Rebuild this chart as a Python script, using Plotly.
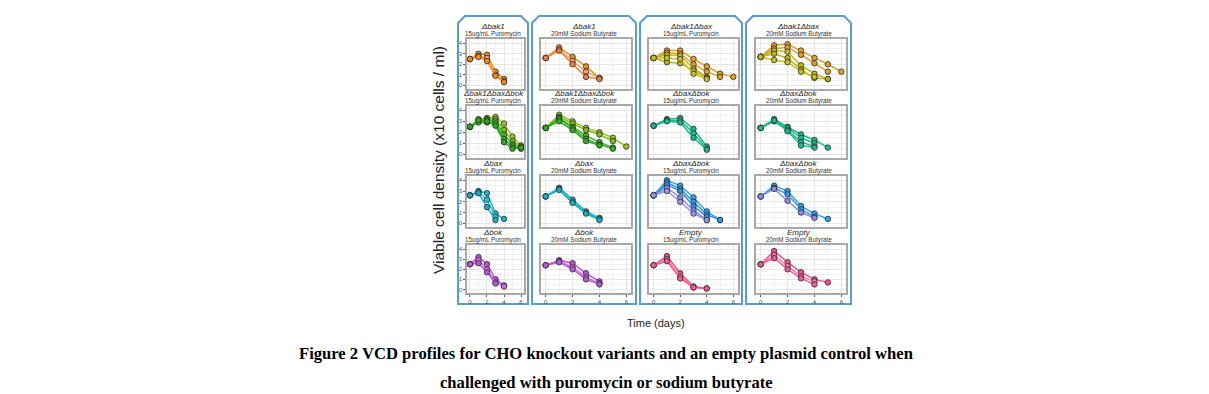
import plotly.graph_objects as go

W, H = 1209, 394

days = [0, 1, 2, 3, 4, 5, 6]
y_ticks = [0, 1, 2, 3, 4]
x_ticks = [0, 2, 4, 6]

# ---- data (viable cell density, x10^6 cells/ml) ----
bak1_puro = [[2.5, 3.0, 2.9, 1.3, 0.6],
             [2.5, 2.8, 2.6, 1.0, 0.4],
             [2.5, 2.7, 2.3, 0.9, 0.3]]
bak1_buty = [[2.6, 3.6, 2.7, 1.8, 0.7],
             [2.6, 3.4, 2.3, 1.3, 0.7],
             [2.6, 3.3, 2.0, 0.8, 0.6]]
bak1bax_puro = [[2.6, 3.3, 3.3, 2.5, 1.8, 1.1, 0.8],
                [2.6, 3.1, 3.0, 2.0, 1.3, 0.8],
                [2.6, 2.9, 2.8, 1.6, 0.8],
                [2.6, 2.2, 2.1, 1.4, 0.7],
                [2.6, 2.6, 2.5, 1.1, 0.6]]
bak1bax_buty = [[2.7, 3.8, 3.9, 3.3, 2.6, 2.0, 1.3],
                [2.7, 3.5, 3.6, 2.9, 2.1, 1.3],
                [2.7, 3.3, 3.2, 1.9, 1.1, 0.6],
                [2.7, 3.0, 2.6, 1.5, 0.7, 0.6],
                [2.7, 2.4, 2.2, 1.3, 0.8]]
bak1baxbok_puro = [[2.5, 3.2, 3.3, 3.4, 2.8, 1.6, 0.8],
                   [2.5, 3.1, 3.2, 3.2, 2.2, 1.2, 0.7],
                   [2.5, 3.0, 3.1, 3.0, 1.8, 0.9, 0.6],
                   [2.5, 2.9, 2.9, 2.8, 1.4, 0.7, 0.5],
                   [2.5, 3.1, 3.0, 2.6, 1.1, 0.5, 0.6]]
bak1baxbok_buty = [[2.4, 3.6, 3.0, 2.4, 2.0, 1.5, 0.7],
                   [2.4, 3.4, 2.8, 2.2, 1.8, 1.2],
                   [2.4, 3.3, 2.5, 1.7, 1.1, 0.6],
                   [2.4, 3.2, 2.4, 1.4, 0.9, 0.5],
                   [2.4, 3.0, 2.2, 1.2, 0.8]]
baxbok_puro_a = [[2.6, 3.2, 3.3, 2.3, 0.7],
                 [2.6, 3.1, 3.1, 1.9, 0.5],
                 [2.6, 3.0, 2.9, 1.5, 0.4]]
baxbok_buty_a = [[2.4, 3.2, 2.5, 1.8, 1.3, 0.6],
                 [2.4, 3.1, 2.4, 1.5, 1.0],
                 [2.4, 3.0, 2.2, 1.1, 0.7],
                 [2.4, 3.1, 2.1, 0.8, 0.6]]
bax_puro = [[2.6, 3.0, 2.8, 0.9, 0.4],
            [2.6, 2.9, 2.2, 0.6],
            [2.6, 2.8, 1.5, 0.3]]
bax_buty = [[2.5, 3.3, 2.2, 1.1, 0.5],
            [2.5, 3.2, 2.0, 1.0, 0.4],
            [2.5, 3.1, 1.9, 0.9, 0.3]]
baxbok_puro_b = [[2.6, 4.0, 3.5, 2.4, 1.1, 0.3],
                 [2.6, 3.8, 3.2, 2.0, 0.8, 0.3],
                 [2.6, 3.6, 3.0, 1.6, 0.6],
                 [2.6, 3.3, 2.4, 1.2, 0.3],
                 [2.6, 3.0, 2.0, 0.9, 0.3]]
baxbok_buty_b = [[2.5, 3.5, 3.0, 1.6, 0.9, 0.4],
                 [2.5, 3.3, 2.7, 1.3, 0.6],
                 [2.5, 3.2, 2.1, 1.0, 0.5]]
bok_puro = [[2.5, 3.2, 2.5, 1.0, 0.4],
            [2.5, 2.9, 2.0, 0.7, 0.3],
            [2.5, 2.6, 1.7, 0.6]]
bok_buty = [[2.4, 2.9, 2.6, 1.6, 0.8],
            [2.4, 2.8, 2.2, 1.2, 0.6],
            [2.4, 2.7, 2.0, 1.0, 0.5]]
empty_puro = [[2.4, 3.3, 1.6, 0.3, 0.1],
              [2.4, 3.0, 1.3, 0.2],
              [2.4, 2.8, 1.1, 0.2, 0.1]]
empty_buty = [[2.5, 3.8, 2.7, 1.7, 1.0, 0.7],
              [2.5, 3.4, 2.3, 1.3, 0.8],
              [2.5, 3.1, 2.0, 1.1, 0.5]]

panel_titles = ["Δbak1", "Δbak1", "Δbak1Δbax", "Δbak1Δbax",
                "Δbak1ΔbaxΔbok", "Δbak1ΔbaxΔbok", "ΔbaxΔbok", "ΔbaxΔbok",
                "Δbax", "Δbax", "ΔbaxΔbok", "ΔbaxΔbok",
                "Δbok", "Δbok", "Empty", "Empty"]
treatments = ["15ug/mL Puromycin", "20mM Sodium Butyrate"]

panel_data = [bak1_puro, bak1_buty, bak1bax_puro, bak1bax_buty,
              bak1baxbok_puro, bak1baxbok_buty, baxbok_puro_a, baxbok_buty_a,
              bax_puro, bax_buty, baxbok_puro_b, baxbok_buty_b,
              bok_puro, bok_buty, empty_puro, empty_buty]

# ---- styles ----
palettes = [
    ["#F28C1E", "#F5A070", "#F28C1E"],
    ["#F28C1E", "#F5A070", "#EE7E3A"],
    ["#E0A028", "#E0A028", "#C2BC1C", "#B8B414", "#C8C020"],
    ["#E0A028", "#E0A028", "#C2BC1C", "#B8B414", "#C8C020"],
    ["#9CC322", "#7CBF22", "#3DB51F", "#34B02A", "#2DAA1E"],
    ["#9CC322", "#7CBF22", "#3DB51F", "#34B02A", "#2DAA1E"],
    ["#1DB98C", "#20BE80", "#18B494"],
    ["#1DB98C", "#20BE80", "#18B494", "#22B888"],
    ["#1FB5C9", "#22C2D6", "#19AFC0"],
    ["#1FB5C9", "#22C2D6", "#19AFC0"],
    ["#2FA4EE", "#3399E6", "#2E8FE0", "#8C8CE8", "#9A94EA"],
    ["#2FA4EE", "#3399E6", "#8C8CE8"],
    ["#C04FDB", "#D86BE0", "#B45AD6"],
    ["#C04FDB", "#D86BE0", "#B45AD6"],
    ["#F0508C", "#F47CA8", "#EE5C98"],
    ["#F0508C", "#F47CA8", "#EE5C98"],
]

# layout in page pixels (page body has an 8px margin, already accounted for)
col_x = [(459, 516), (533, 623), (641, 730), (748, 838)]
row_y = [(31, 81), (98, 150), (168, 219), (237, 285)]
box_x = [(450, 520), (524, 628), (632, 734), (738, 843)]
box_y = (8, 296)

def px(x):
    return x / W

def py(y):
    return 1 - y / H

fig = go.Figure()
annotations = []
shapes = []

for i in range(16):
    r, c = divmod(i, 4)
    n = i + 1
    xa = "x" if n == 1 else f"x{n}"
    ya = "y" if n == 1 else f"y{n}"
    for k, series in enumerate(panel_data[i]):
        col = palettes[i][k % len(palettes[i])]
        fig.add_trace(go.Scatter(
            x=days[:len(series)], y=series, xaxis=xa, yaxis=ya,
            mode="lines+markers", showlegend=False,
            line=dict(color=col, width=1.5),
            marker=dict(size=5.5, color=col, line=dict(color="#2a2a2a", width=0.8)),
        ))
    x0, x1 = col_x[c]
    y0, y1 = row_y[r]
    xkey = "xaxis" if n == 1 else f"xaxis{n}"
    ykey = "yaxis" if n == 1 else f"yaxis{n}"
    fig.layout[xkey] = dict(
        domain=[px(x0), px(x1)], anchor=ya, range=[-0.35, 6.35],
        tickvals=x_ticks, showticklabels=(r == 3), ticks="outside" if r == 3 else "",
        ticklen=2, tickcolor="#555", tickfont=dict(size=6, color="#4d4d4d", family="Liberation Sans"),
        showgrid=True, gridcolor="#E6E6E6", gridwidth=0.6,
        minor=dict(dtick=1, showgrid=True, gridcolor="#F2F2F2", gridwidth=0.4),
        zeroline=False, showline=True, linecolor="#A8A8A8", linewidth=1.5, mirror=True,
        fixedrange=True,
    )
    fig.layout[ykey] = dict(
        domain=[py(y1), py(y0)], anchor=xa, range=[-0.35, 4.4],
        tickvals=y_ticks, showticklabels=(c == 0), ticks="outside" if c == 0 else "",
        ticklen=2, tickcolor="#555", tickfont=dict(size=6, color="#4d4d4d", family="Liberation Sans"),
        showgrid=True, gridcolor="#E6E6E6", gridwidth=0.6,
        minor=dict(dtick=0.5, showgrid=True, gridcolor="#F2F2F2", gridwidth=0.4),
        zeroline=False, showline=True, linecolor="#A8A8A8", linewidth=1.5, mirror=True,
        fixedrange=True,
    )
    cx = (box_x[c][0] + box_x[c][1]) / 2
    annotations.append(dict(
        x=px(cx), y=py(y0 - 13), xref="paper", yref="paper", showarrow=False,
        text=f"<i>{panel_titles[i]}</i>", font=dict(size=8, color="#222", family="Liberation Sans"),
        xanchor="center", yanchor="middle"))
    annotations.append(dict(
        x=px(cx), y=py(y0 - 5), xref="paper", yref="paper", showarrow=False,
        text=treatments[c % 2], font=dict(size=6.3, color="#333", family="Liberation Sans"),
        xanchor="center", yanchor="middle"))

# column boxes with snipped top corners
ch = 7
for (bx0, bx1) in box_x:
    by0, by1 = box_y
    path = (f"M {px(bx0)} {py(by1)} L {px(bx0)} {py(by0 + ch)} L {px(bx0 + ch)} {py(by0)} "
            f"L {px(bx1 - ch)} {py(by0)} L {px(bx1)} {py(by0 + ch)} L {px(bx1)} {py(by1)} Z")
    shapes.append(dict(type="path", path=path, xref="paper", yref="paper",
                       line=dict(color="#5B9BD5", width=2), fillcolor="rgba(0,0,0,0)", layer="below"))

annotations.append(dict(
    x=px(430), y=py(152), xref="paper", yref="paper", showarrow=False,
    text="Viable cell density (x10 cells / ml)", textangle=-90,
    font=dict(size=15.5, color="#222", family="Liberation Sans"),
    xanchor="center", yanchor="middle"))
annotations.append(dict(
    x=px(648), y=py(315), xref="paper", yref="paper", showarrow=False,
    text="Time (days)", font=dict(size=11, color="#222", family="Liberation Sans"),
    xanchor="center", yanchor="middle"))
annotations.append(dict(
    x=px(598), y=py(345), xref="paper", yref="paper", showarrow=False,
    text="<b>Figure 2 VCD profiles for CHO knockout variants and an empty plasmid control when</b>",
    font=dict(size=16.6, color="#000", family="Liberation Serif"),
    xanchor="center", yanchor="middle"))
annotations.append(dict(
    x=px(598), y=py(374), xref="paper", yref="paper", showarrow=False,
    text="<b>challenged with puromycin or sodium butyrate</b>",
    font=dict(size=16.6, color="#000", family="Liberation Serif"),
    xanchor="center", yanchor="middle"))

fig.update_layout(
    width=W, height=H, margin=dict(l=0, r=0, t=0, b=0),
    paper_bgcolor="white", plot_bgcolor="white",
    annotations=annotations, shapes=shapes, showlegend=False,
)

fig.write_html("out.html", config={"displayModeBar": False})
